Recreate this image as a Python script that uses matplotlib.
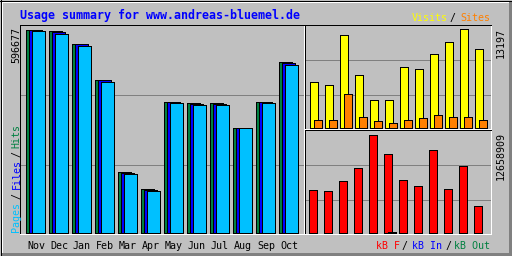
import matplotlib
matplotlib.use("Agg")
import matplotlib.pyplot as plt
from matplotlib.lines import Line2D

# Webalizer style yearly usage summary, 512x256 px
W, H = 512, 256
PX = 0.72  # one pixel in points at dpi 100

title = "Usage summary for www.andreas-bluemel.de"
months = ["Nov", "Dec", "Jan", "Feb", "Mar", "Apr", "May", "Jun", "Jul", "Aug", "Sep", "Oct"]

hits = [596677, 590800, 555500, 449700, 176400, 126400, 385000, 379200, 379200, 308600, 385000, 499700]
files = [595300, 589600, 554100, 448500, 175800, 125900, 384100, 378300, 378200, 307900, 384000, 498500]
pages = [593700, 584900, 549600, 443800, 173400, 123400, 382100, 376200, 376200, 305700, 382100, 493800]

visits = [6194, 5790, 12523, 7137, 3770, 3636, 8080, 7945, 9965, 11581, 13197, 10504]
sites = [943, 943, 4578, 1481, 808, 673, 1077, 1212, 1616, 1481, 1481, 1077]

kb_f = [5554417, 5425245, 6716970, 8396213, 12658909, 10204628,
        6846143, 5941937, 10721318, 5683590, 8654558, 3487658]
kb_in = [0, 0, 0, 0, 0, 110000, 0, 0, 0, 0, 0, 0]
kb_out = [0, 0, 0, 0, 0, 0, 0, 0, 0, 0, 0, 0]

GREY = "#C0C0C0"
DKGREY = "#808080"
GREEN = "#008040"
BLUE = "#0000FF"
CYAN = "#00C0FF"
YELLOW = "#FFFF00"
ORANGE = "#FF8000"
RED = "#FF0000"
MONO = "DejaVu Sans Mono"

fig = plt.figure(figsize=(W / 100, H / 100), dpi=100)
fig.patch.set_facecolor(GREY)


def fx(x):
    return x / W


def fy(y):
    return 1 - y / H


def panel(l, t, r, b, base, x0, step, k):
    ax = fig.add_axes([l / W, 1 - b / H, (r - l) / W, (b - t) / H])
    ax.set_facecolor(GREY)
    ax.set_xlim((l - x0) / step, (r - x0) / step)
    ax.set_ylim(-(b - base) * k, (base - t) * k)
    ax.set_xticks([])
    ax.set_yticks([])
    for s in ("top", "left"):
        ax.spines[s].set_color("black")
    for s in ("bottom", "right"):
        ax.spines[s].set_color("white")
    for s in ax.spines.values():
        s.set_linewidth(PX)
    return ax


def bars(ax, vals, off, width, step, color):
    xs = [i + off / step for i, v in enumerate(vals) if v > 0]
    hs = [v for v in vals if v > 0]
    ax.bar(xs, hs, width=width / step, align="edge", color=color,
           edgecolor="black", linewidth=PX, antialiased=False, zorder=2)


def grid(ax, heights, k):
    for h in heights:
        ax.axhline(h * k, color=DKGREY, lw=PX, antialiased=False, zorder=1)


# main panel: hits / files / pages
k_main = max(hits) / 203
ax = panel(20, 25, 304, 234, 232.5, 26, 23, k_main)
grid(ax, [67.5, 137.5], k_main)
bars(ax, hits, 0, 13, 23, GREEN)
bars(ax, files, 3, 13, 23, BLUE)
bars(ax, pages, 6, 13, 23, CYAN)
for i, m in enumerate(months):
    ax.text(i + 10 / 23, -15 / 209, m, transform=ax.get_xaxis_transform(),
            ha="center", va="baseline", family=MONO, size=7.2)

# visits / sites
k_vis = max(visits) / 98
ax2 = panel(305, 25, 491, 128.5, 127.5, 310, 15, k_vis)
grid(ax2, [32.5, 67.5], k_vis)
bars(ax2, visits, 0, 8, 15, YELLOW)
bars(ax2, sites, 4, 8, 15, ORANGE)

# kB F / In / Out
k_kb = max(kb_f) / 98
ax3 = panel(305, 129.5, 491, 234, 232.5, 309, 15, k_kb)
grid(ax3, [32.5, 67.5], k_kb)
bars(ax3, kb_f, 0, 8, 15, RED)
bars(ax3, kb_in, 4, 8, 15, BLUE)
bars(ax3, kb_out, 8, 8, 15, GREEN)

# texts
fig.text(fx(20), fy(19), title, color=BLUE, family=MONO, weight="bold",
         size=8.4, ha="left", va="baseline")

small = dict(family=MONO, size=7.2, va="baseline")
fig.text(fx(447.5), fy(21), "Visits", color=YELLOW, ha="right", **small)
fig.text(fx(449.5), fy(21), "/", color="black", ha="left", **small)
fig.text(fx(490), fy(21), "Sites", color=ORANGE, ha="right", **small)

fig.text(fx(376), fy(249), "kB F", color=RED, ha="left", **small)
fig.text(fx(402), fy(249), "/", color="black", ha="left", **small)
fig.text(fx(411.5), fy(249), "kB In", color=BLUE, ha="left", **small)
fig.text(fx(445), fy(249), "/", color="black", ha="left", **small)
fig.text(fx(490), fy(249), "kB Out", color=GREEN, ha="right", **small)

up = dict(family=MONO, size=7.2, rotation=90, rotation_mode="anchor", va="baseline")
fig.text(fx(19.5), fy(27), str(max(hits)), color="black", ha="right", **up)
fig.text(fx(504), fy(28), str(max(visits)), color="black", ha="right", **up)
fig.text(fx(504), fy(131.5), str(max(kb_f)), color="black", ha="right", **up)

fig.text(fx(19.5), fy(232), "Pages", color=CYAN, ha="left", **up)
fig.text(fx(19.5), fy(199), "/", color="black", ha="left", **up)
fig.text(fx(19.5), fy(189), "Files", color=BLUE, ha="left", **up)
fig.text(fx(19.5), fy(157), "/", color="black", ha="left", **up)
fig.text(fx(19.5), fy(148), "Hits", color=GREEN, ha="left", **up)

# raised outer frame
def frame_line(xs, ys, color, width):
    fig.add_artist(Line2D([fx(x) for x in xs], [fy(y) for y in ys],
                          transform=fig.transFigure, color=color, lw=width * PX,
                          antialiased=False, solid_capstyle="butt"))


frame_line([1, 510], [2, 2], "white", 2)
frame_line([2, 2], [1, 253], "white", 2)
frame_line([1, 511], [253.5, 253.5], DKGREY, 3)
frame_line([509.5, 509.5], [1, 255], DKGREY, 3)
frame_line([0, 512], [0.5, 0.5], "black", 1)
frame_line([0, 512], [255.5, 255.5], "black", 1)
frame_line([0.5, 0.5], [0, 256], "black", 1)
frame_line([511.5, 511.5], [0, 256], "black", 1)

fig.savefig("out.png", dpi=100, facecolor=GREY)
